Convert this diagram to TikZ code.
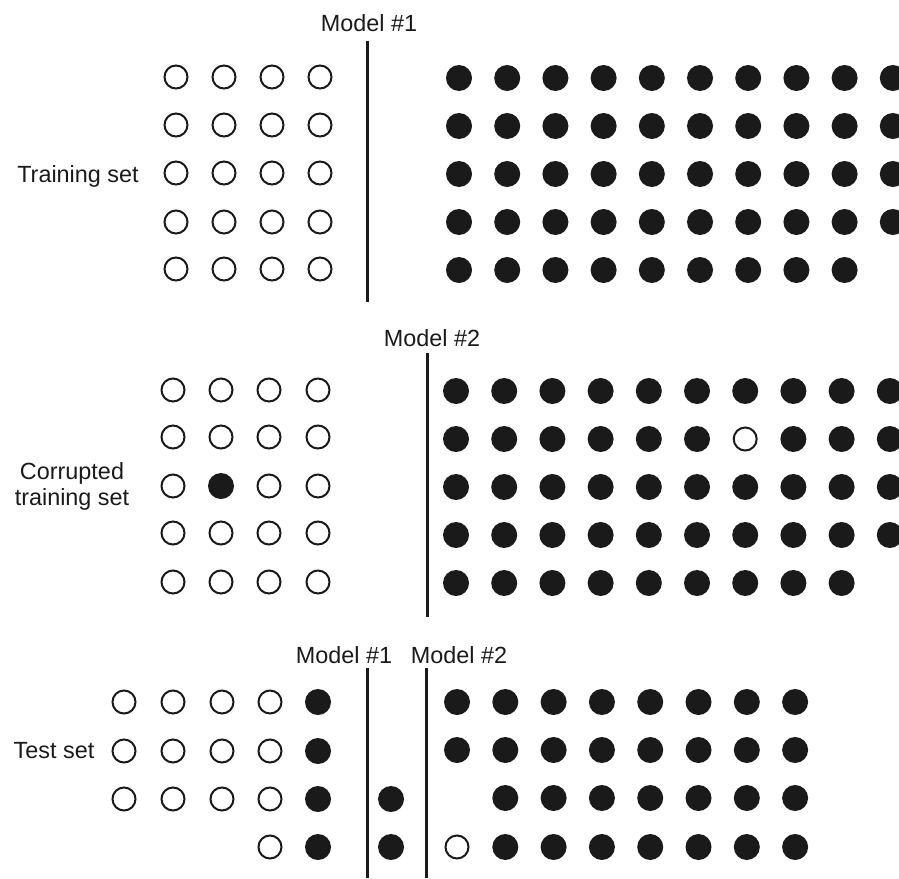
\documentclass[tikz,border=0pt]{standalone}
\usepackage{fontspec}
\setmainfont{Liberation Sans}
\usetikzlibrary{positioning}
\definecolor{ink}{HTML}{1A1A1A}
\tikzset{
  ring/.style ={circle, draw=ink, line width=1pt, minimum size=11.5pt, inner sep=0pt},
  dot/.style  ={circle, fill=ink, minimum size=13pt, inner sep=0pt},
  lbl/.style  ={font=\fontsize{11.7}{13}\selectfont, text=ink, align=center, inner sep=0pt},
  bound/.style={draw=ink, line width=1.5pt},
}

\begin{document}
\begin{tikzpicture}[x=0.5pt,y=-0.5pt]
\useasboundingbox (0,0) rectangle (899,878);
% --- training set ---
\node[lbl,anchor=base] (trlbl) at (78,182) {Training set};
\foreach \r/\y in {1/77,2/125,3/173,4/222,5/269} {
  \foreach \c/\x in {1/176,2/224,3/272,4/320} {\node[ring] (tn-\r-\c) at (\x,\y) {};}
}
\foreach \r/\y/\n in {1/78/10,2/126/10,3/174/10,4/222/10,5/270/9} {
  \foreach \c in {1,...,\n} {\node[dot] (tp-\r-\c) at ({459+48.2*(\c-1)},\y) {};}
}
\node[lbl,anchor=base] (m1a) at (369,32) {Model \#1};
\coordinate (b1top) at (367,41);
\coordinate (b1bot) at (367,302);
\draw[bound] (b1top) -- (b1bot);
% --- corrupted training set ---
\node[lbl] (crlbl) at (72,486) {Corrupted\\training set};
\foreach \r/\y in {1/390,2/437,3/486,4/533,5/582} {
  \foreach \c/\x in {1/173,2/221,3/269,4/318} {
    \ifnum\r\c=32 \node[dot] (cn-\r-\c) at (\x,\y) {};
    \else \node[ring] (cn-\r-\c) at (\x,\y) {};
    \fi
  }
}
\foreach \r/\y/\n in {1/391/10,2/439/10,3/487/10,4/535/10,5/583/9} {
  \foreach \c in {1,...,\n} {
    \ifnum\r\c=27 \node[ring] (cp-\r-\c) at ({456+48.2*(\c-1)},\y) {};
    \else \node[dot] (cp-\r-\c) at ({456+48.2*(\c-1)},\y) {};
    \fi
  }
}
\node[lbl,anchor=base] (m2a) at (432,346) {Model \#2};
\coordinate (b2top) at (427,353);
\coordinate (b2bot) at (427,617);
\draw[bound] (b2top) -- (b2bot);
% --- test set ---
\node[lbl,anchor=base] (tslbl) at (54,758) {Test set};
\foreach \r/\y/\cs in {1/702/{124,173,222,270},2/751/{124,173,222,270},3/799/{124,173,222,270},4/847/{270}} {
  \foreach \x in \cs {\node[ring] (sn-\r-\x) at (\x,\y) {};}
  \node[dot] (sm-\r) at (318,\y) {};
}
\node[dot] (sx-3) at (391,799) {};
\node[dot] (sx-4) at (391,847) {};
\foreach \r/\y/\f in {1/702/1,2/750/1,3/798/2,4/847/2} {
  \foreach \c in {\f,...,8} {\node[dot] (sp-\r-\c) at ({457+48.3*(\c-1)},\y) {};}
}
\node[ring] (sp-4-1) at (457,847) {};
\node[lbl,anchor=base] (m1b) at (344,663) {Model \#1};
\node[lbl,anchor=base] (m2b) at (459,663) {Model \#2};
\coordinate (b3top) at (367,668);
\coordinate (b3bot) at (367,878);
\coordinate (b4top) at (426,668);
\coordinate (b4bot) at (426,878);
\draw[bound] (b3top) -- (b3bot);
\draw[bound] (b4top) -- (b4bot);
\end{tikzpicture}
\end{document}
